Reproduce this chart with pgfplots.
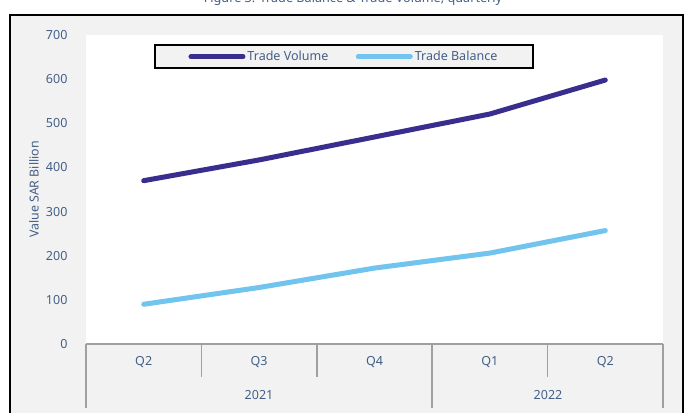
\documentclass[border=0pt]{standalone}
\usepackage{pgfplots}
\pgfplotsset{compat=1.18}
\usepackage{fontspec}
\setmainfont{Noto Sans}
\definecolor{txt}{RGB}{68,95,135}
\definecolor{vol}{RGB}{57,45,142}
\definecolor{bal}{RGB}{112,196,238}
\definecolor{bg}{RGB}{242,242,242}
\definecolor{sep}{RGB}{160,160,160}
\begin{document}
\begin{tikzpicture}[x=0.75pt,y=0.75pt]
\useasboundingbox (0,0) rectangle (689,412);
\begin{scope}
\clip (0,0) rectangle (689,412);
\draw[black, line width=1.2pt, fill=bg] (10,397) rectangle (683,-20);
\node[anchor=base, font=\fontsize{9.5}{11}\selectfont\bfseries, text=txt] at (353,409.5) {Figure 3: Trade Balance \& Trade Volume, quarterly};
\end{scope}
\coordinate (O) at (86,68);
\begin{axis}[
  at={(O)}, anchor=south west, scale only axis,
  width=432.75pt, height=231.75pt,
  xmin=-0.5, xmax=4.5, ymin=0, ymax=700,
  ytick={0,100,...,700},
  xtick={0,1,2,3,4}, xticklabels={Q2,Q3,Q4,Q1,Q2},
  axis background/.style={fill=white},
  axis line style={draw=none},
  major tick length=0pt,
  /pgf/number format/assume math mode=true,
  tick label style={font=\fontsize{9.4}{11}\selectfont, text=txt},
  yticklabel style={anchor=east, xshift=-10.4pt},
  xticklabel style={anchor=center, yshift=-13.5pt},
  ylabel={Value SAR Billion},
  ylabel style={at={(axis description cs:-0.090,0.5)}, anchor=center, font=\fontsize{9.3}{11}\selectfont, text=txt},
  clip=false,
  legend style={at={(axis description cs:0.447,0.930)}, anchor=center, draw=black, line width=1.2pt, fill=bg,
    font=\fontsize{9.4}{11}\selectfont, text=txt, inner xsep=25pt, inner ysep=2.3pt,
    /tikz/every even column/.append style={column sep=19pt},
    nodes={inner xsep=1.5pt}},
  legend columns=2,
  legend image code/.code={\draw[#1, line width=3.75pt, line cap=round] (0pt,0pt) -- (39pt,0pt);},
]
\addplot[vol, line width=3.75pt, line cap=round, line join=round] coordinates {(0,370) (1,417) (2,469) (3,521) (4,598)};
\addlegendentry{Trade Volume}
\addplot[bal, line width=3.75pt, line cap=round, line join=round] coordinates {(0,90) (1,128) (2,172) (3,206) (4,257)};
\addlegendentry{Trade Balance}
\end{axis}
\draw[sep, line width=1.3pt] (86,68) -- (663,68);
\draw[sep, line width=1.1pt] (86,68) -- (86,4) (432.2,68) -- (432.2,4) (663,68) -- (663,4)
  (201.4,68) -- (201.4,35) (316.8,68) -- (316.8,35) (547.6,68) -- (547.6,35);
\node[font=\fontsize{9.4}{11}\selectfont, text=txt] at (259,17) {2021};
\node[font=\fontsize{9.4}{11}\selectfont, text=txt] at (548,17) {2022};
\end{tikzpicture}
\end{document}
